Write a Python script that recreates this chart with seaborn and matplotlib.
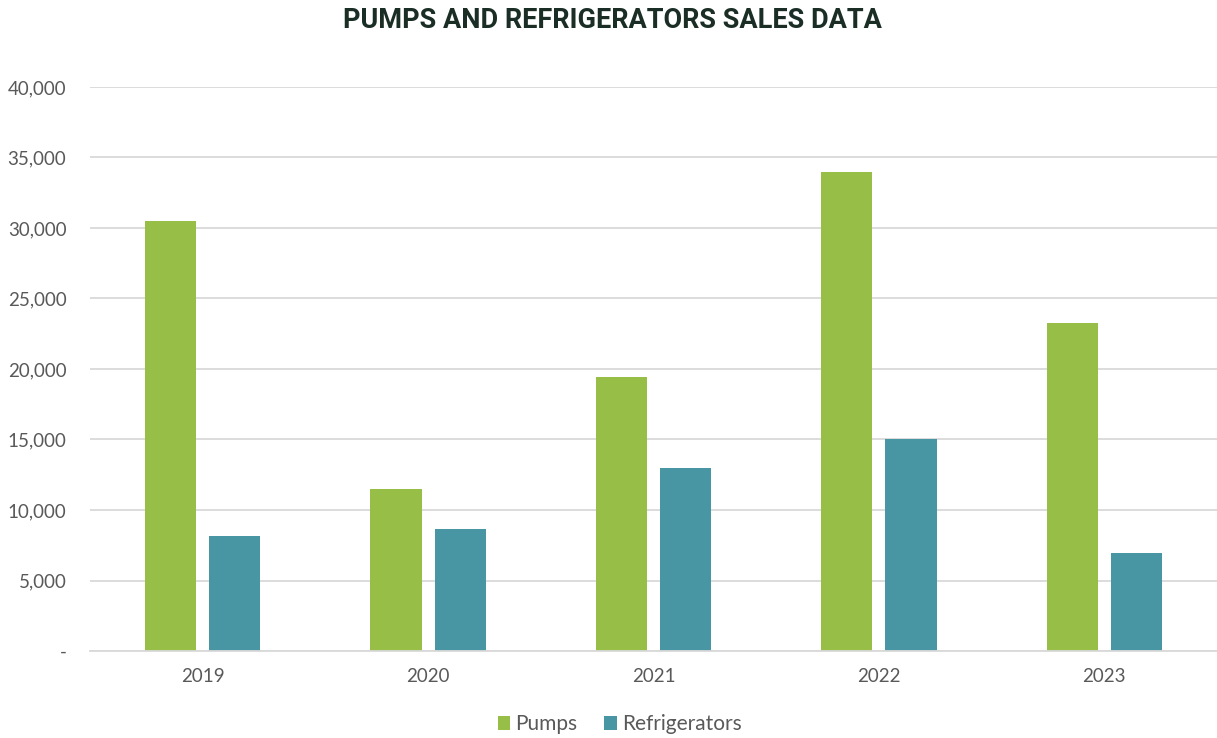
import matplotlib
matplotlib.use("Agg")
import matplotlib.pyplot as plt
import matplotlib.ticker as mticker
import pandas as pd
import seaborn as sns

years = ["2019", "2020", "2021", "2022", "2023"]
pumps = [30500, 11500, 19400, 34000, 23250]
refrigerators = [8150, 8650, 13000, 15000, 6950]
series_names = ["Pumps", "Refrigerators"]
colors = ["#97BF47", "#4896A3"]

df = pd.DataFrame({
    "year": years * 2,
    "sales": pumps + refrigerators,
    "product": [series_names[0]] * len(years) + [series_names[1]] * len(years),
})

sns.set_theme(style="white")
plt.rcParams["font.family"] = ["Lato", "DejaVu Sans"]

fig = plt.figure(figsize=(12.17, 7.38), dpi=100)
ax = fig.add_axes([90 / 1217, 1 - 651 / 738, 1 - 90 / 1217, (651 - 87) / 738])

sns.barplot(data=df, x="year", y="sales", hue="product", palette=colors,
            width=0.57, gap=0.205, ax=ax, legend=True, saturation=1, linewidth=0)

ax.set_ylim(0, 40000)
ax.set_xlim(-0.5, 4.5)
ax.yaxis.set_major_locator(mticker.MultipleLocator(5000))
ax.yaxis.set_major_formatter(mticker.FuncFormatter(lambda v, p: "-" if v == 0 else f"{int(v):,}"))
ax.grid(axis="y", color="#D9D9D9", linewidth=1.3)
ax.set_axisbelow(True)
for s in ["top", "right", "left"]:
    ax.spines[s].set_visible(False)
ax.spines["bottom"].set_color("#D9D9D9")
ax.spines["bottom"].set_linewidth(1.3)
ax.tick_params(axis="both", length=0, labelsize=13.5, labelcolor="#595959")
ax.tick_params(axis="x", pad=12)
ax.tick_params(axis="y", pad=17)
ax.set_xlabel("")
ax.set_ylabel("")

h, l = ax.get_legend_handles_labels()
ax.legend(h, l, loc="center", bbox_to_anchor=(0.47, -0.13), ncol=2, frameon=False,
          fontsize=15, handlelength=0.6, handleheight=0.6, handletextpad=0.25,
          columnspacing=1.3, labelcolor="#595959")

fig.text(0.503, 1 - 21 / 738, "PUMPS AND REFRIGERATORS SALES DATA", ha="center", va="center",
         fontsize=19.5, fontweight="bold", color="#1B2E25", family=["Roboto", "DejaVu Sans"])

fig.savefig("out.png", dpi=100)
